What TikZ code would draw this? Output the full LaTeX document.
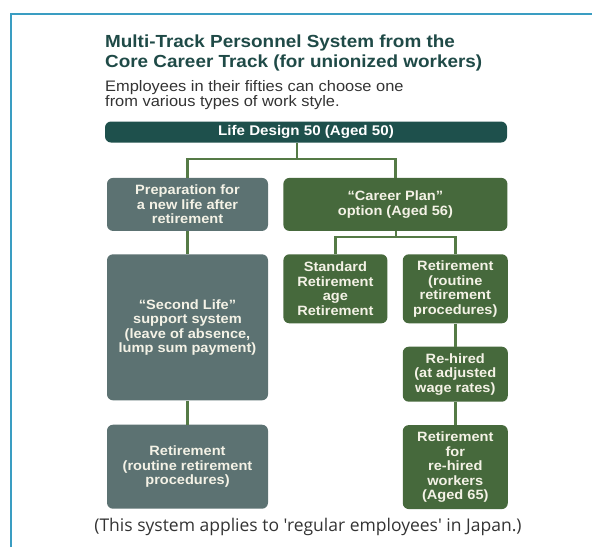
\documentclass[tikz,border=0pt]{standalone}
\usepackage{fontspec}
\setmainfont{Liberation Sans}
\newfontfamily\boxfont[FakeStretch=1.08]{Liberation Sans}
\newfontfamily\notefont{Open Sans}
\usetikzlibrary{positioning}

\definecolor{frameblue}{HTML}{3A9DC2}
\definecolor{titleteal}{HTML}{1F4A47}
\definecolor{subgrey}{HTML}{333333}
\definecolor{barteal}{HTML}{1E504C}
\definecolor{slate}{HTML}{5C7272}
\definecolor{leaf}{HTML}{46693C}
\definecolor{linkgreen}{HTML}{557A46}
\definecolor{cream}{HTML}{F4F2E6}

\begin{document}
\begin{tikzpicture}[x=1pt, y=-1pt, node distance=23pt]
        \tikzstyle{heading}=[anchor=base west, inner sep=0pt, text=titleteal, font=\boxfont\bfseries\fontsize{17.5}{20}\selectfont]
        \tikzstyle{subline}=[anchor=base west, inner sep=0pt, text=subgrey, font=\boxfont\fontsize{15.2}{16}\selectfont]
        \tikzstyle{stepbar}=[fill=barteal, rounded corners=6pt, minimum width=402pt, minimum height=21pt, inner sep=0pt, text=white, font=\boxfont\bfseries\fontsize{14}{15}\selectfont]
        \tikzstyle{box}=[rounded corners=6pt, inner sep=0pt, align=center, text=cream, font=\boxfont\bfseries\fontsize{13.5}{14.5}\selectfont]
        \tikzstyle{leftbox}=[box, fill=slate, minimum width=161pt]
        \tikzstyle{rightbox}=[box, fill=leaf]
        \tikzstyle{link}=[draw=linkgreen, line width=2.6pt]

        \useasboundingbox (0,0) rectangle (592,547);
        \draw[frameblue, line width=2pt] (11,547) -- (11,14) -- (592,14);

        % heading
        \node[heading] (title1) at (105,47) {Multi-Track Personnel System from the};
        \node[heading] (title2) at (105,67) {Core Career Track (for unionized workers)};
        \node[subline] (sub1) at (105,91) {Employees in their fifties can choose one};
        \node[subline] (sub2) at (105,106) {from various types of work style.};

        % boxes
        \node[stepbar] (life) at (306,132) {Life Design 50 (Aged 50)};
        \node[leftbox, minimum height=53pt, below right=35pt and 2pt of life.south west] (prep) {Preparation for\\a new life after\\retirement};
        \node[rightbox, minimum width=224pt, minimum height=53pt, right=15pt of prep] (career) {“Career Plan”\\option (Aged 56)};
        \node[rightbox, minimum width=104pt, minimum height=69pt, below right=23pt and 0pt of career.south west] (standard) {Standard\\Retirement\\age\\Retirement};
        \node[rightbox, minimum width=105pt, minimum height=69pt, right=15pt of standard] (retire) {Retirement\\(routine\\retirement\\procedures)};
        \node[leftbox, minimum height=146pt, below=of prep] (second) {“Second Life”\\support system\\(leave of absence,\\lump sum payment)};
        \node[rightbox, minimum width=105pt, minimum height=55pt, below=of retire] (rehired) {Re-hired\\(at adjusted\\wage rates)};
        \node[leftbox, minimum height=84pt, below=24pt of second] (retireleft) {Retirement\\(routine retirement\\procedures)};
        \node[rightbox, minimum width=105pt, minimum height=84pt, below=of rehired] (retireold) {Retirement\\for\\re-hired\\workers\\(Aged 65)};

        % connectors
        \coordinate (fork) at (297,159);
        \coordinate (forkplan) at (396,237);
        \draw[link] (life.south -| fork) -- (fork);
        \draw[link] (prep.north) |- (fork) -| (career.north);
        \draw[link] (career.south -| forkplan) -- (forkplan);
        \draw[link] (standard.north) |- (forkplan) -| (retire.north);
        \draw[link] (prep) -- (second);
        \draw[link] (second) -- (retireleft);
        \draw[link] (retire) -- (rehired);
        \draw[link] (rehired) -- (retireold);

        \node[anchor=base, inner sep=0pt, text=subgrey, font=\notefont\fontsize{17.5}{19}\selectfont] (note) at (308,531) {(This system applies to 'regular employees' in Japan.)};
    \end{tikzpicture}
\end{document}
